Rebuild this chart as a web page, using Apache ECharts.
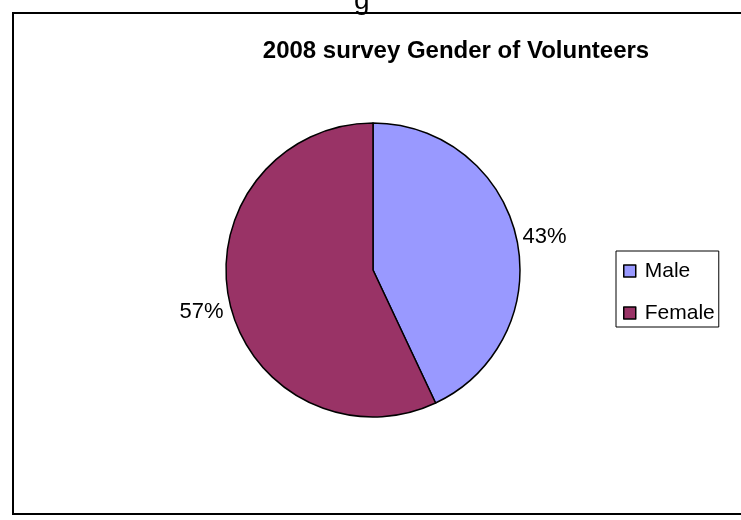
<!DOCTYPE html>
<html><head><meta charset="utf-8">
<script src="https://cdn.jsdelivr.net/npm/echarts@6/dist/echarts.min.js"></script>
<style>html,body{margin:0;padding:0;background:#fff}#c{width:741px;height:520px}</style>
</head><body><div id="c"></div>
<script>
const categories = ["Male", "Female"];
const values = [43, 57];
const colors = ["#9999FF", "#993366"];
const titleText = "2008 survey Gender of Volunteers";

const labelOffsets = [[0, -1], [0, 10]];
const chart = echarts.init(document.getElementById('c'), null, {renderer: 'canvas'});
chart.setOption({
  backgroundColor: '#fff',
  animation: false,
  title: {
    text: titleText, left: 451, top: 34, textAlign: 'center',
    textStyle: {fontFamily: 'Liberation Sans, Arial', fontWeight: 'bold', fontSize: 24, color: '#000'}
  },
  legend: {
    orient: 'vertical', left: 616, top: 251,
    data: categories,
    icon: 'rect', itemWidth: 12, itemHeight: 12, itemGap: 20,
    padding: [9, 4, 3, 7],
    borderColor: '#000', borderWidth: 1,
    itemStyle: {borderColor: '#000', borderWidth: 1.5},
    textStyle: {fontFamily: 'Liberation Sans, Arial', fontSize: 21, color: '#000', lineHeight: 22, padding: [0, 0, 0, 4]}
  },
  graphic: [
    {type: 'rect', shape: {x: 13, y: 13, width: 760, height: 501}, style: {fill: 'none', stroke: '#000', lineWidth: 2}, silent: true, z: 10},
    {type: 'text', left: 354, top: -13, style: {text: 'g', font: '28px Liberation Sans', fill: '#000'}}
  ],
  series: [{
    type: 'pie', center: [373, 270], radius: 147, startAngle: 90, clockwise: true,
    data: categories.map((c, i) => ({name: c, value: values[i], itemStyle: {color: colors[i]}, label: {offset: labelOffsets[i]}})),
    itemStyle: {borderColor: '#000', borderWidth: 1.5},
    label: {show: true, position: 'outside', formatter: p => Math.round(p.percent) + '%',
      fontFamily: 'Liberation Sans, Arial', fontSize: 22, color: '#000'},
    labelLine: {show: false, length: 1, length2: 0},
    emphasis: {disabled: true}
  }]
});
</script></body></html>
